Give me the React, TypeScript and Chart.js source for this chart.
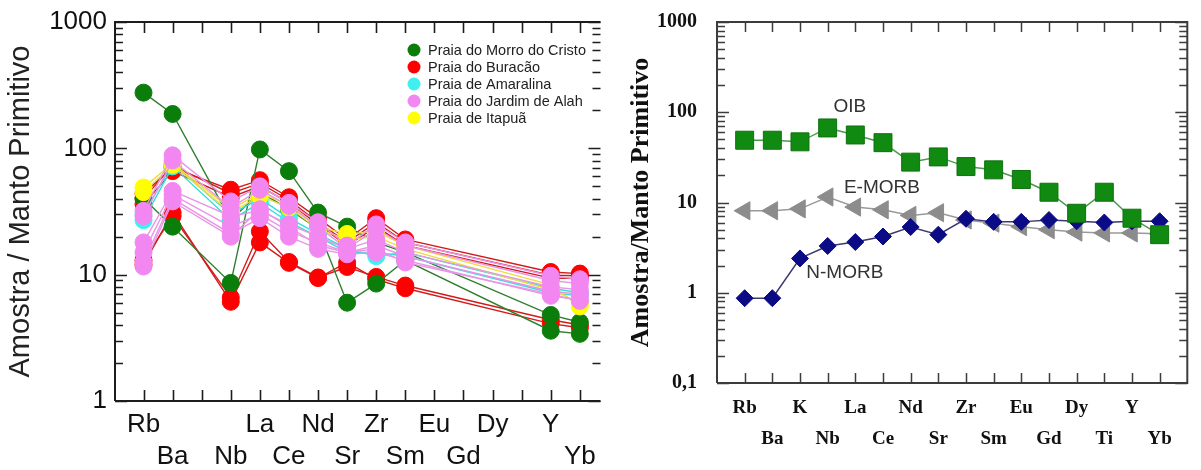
import React, { useEffect, useRef } from 'react';
import { Chart, registerables } from 'chart.js';

Chart.register(...registerables);

// ---------------- data ----------------
const elements = ['Rb', 'Ba', 'K', 'Nb', 'La', 'Ce', 'Nd', 'Sr', 'Zr', 'Sm', 'Eu', 'Gd', 'Dy', 'Ti', 'Y', 'Yb'];
const leftTickLabels = ['Rb', 'Ba', '', 'Nb', 'La', 'Ce', 'Nd', 'Sr', 'Zr', 'Sm', 'Eu', 'Gd', 'Dy', '', 'Y', 'Yb'];
const rightTickLabels = ['Rb', 'Ba', 'K', 'Nb', 'La', 'Ce', 'Nd', 'Sr', 'Zr', 'Sm', 'Eu', 'Gd', 'Dy', 'Ti', 'Y', 'Yb'];

const leftYTicks = [1, 10, 100, 1000];
const leftYTickLabels = ['1', '10', '100', '1000'];
const rightYTicks = [0.1, 1, 10, 100, 1000];
const rightYTickLabels = ['0,1', '1', '10', '100', '1000'];

const legendNames = [
  'Praia do Morro do Cristo',
  'Praia do Buracão',
  'Praia de Amaralina',
  'Praia do Jardim de Alah',
  'Praia de Itapuã',
];

const n = null;
// order: Rb Ba K Nb La Ce Nd Sr Zr Sm Eu Gd Dy Ti Y Yb
const morroCristoA = [276, 187, n, 27, 45, 33, 23, 6, 8.5, 13, n, n, n, n, 3.6, 3.4];
const morroCristoB = [40, 24, n, 8.6, 98, 66, 31, 24, 18, 15, n, n, n, n, 4.8, 4.2];

const buracao1 = [44, 70, n, 47, 56, 41, 28, 19, 28, 19, n, n, n, n, 10.5, 10.2];
const buracao2 = [40, 73, n, 44, 53, 39, 26, 18, 26, 18, n, n, n, n, 9.9, 9.8];
const buracao3 = [36, 66, n, 41, 50, 37, 25, 17, 24, 17, n, n, n, n, 9.4, 9.3];
const buracao4 = [13, 29, n, 6.6, 22, 12.6, 9.5, 11.5, 9.6, 8.2, n, n, n, n, 4.4, 4.0];
const buracao5 = [12, 31, n, 6.1, 18, 12.4, 9.4, 12.5, 9.2, 7.8, n, n, n, n, 4.1, 3.8];

const amaralina1 = [30, 76, n, 30, 40, 28, 21, 16, 14, 15, n, n, n, n, 7.8, 7.2];
const amaralina2 = [27, 72, n, 27, 37, 26, 20, 15, 15, 14, n, n, n, n, 7.2, 6.8];

const jardim1 = [32, 88, n, 38, 50, 37, 26, 17, 25, 18, n, n, n, n, 9.8, 9.2];
const jardim2 = [29, 80, n, 34, 47, 35, 24, 16, 23, 17, n, n, n, n, 9.0, 8.5];
const jardim3 = [18, 46, n, 29, 32, 25, 20, 16, 19, 15, n, n, n, n, 8.0, 7.6];
const jardim4 = [15, 43, n, 24, 30, 22, 18, 15, 17, 14, n, n, n, n, 7.4, 7.0];
const jardim5 = [12.6, 40, n, 21, 28, 20, 16, 14.5, 15, 13, n, n, n, n, 6.8, 6.3];
const jardim6 = [11.6, 38, n, 20, 33, 24, 17, 15, 16, 12.5, n, n, n, n, 7.0, 6.2];

const itapua1 = [49, 76, n, 33, 44, 36, 24, 21, 22, 17, n, n, n, n, 8.3, 5.6];
const itapua2 = [45, 74, n, 31, 42, 34, 23, 19, 20, 16, n, n, n, n, 7.6, 6.0];

const oib = [49, 49, 47, 67, 56, 46, 28, 32, 25, 23, 18, 13, 7.6, 13, 6.7, 4.4];
const eMorb = [8.1, 8.1, 8.5, 11.5, 8.9, 8.3, 7.2, 7.7, 6.4, 5.9, 5.4, 5.0, 4.7, 4.6, 4.6, 4.5];
const nMorb = [0.87, 0.87, 2.4, 3.3, 3.65, 4.2, 5.35, 4.4, 6.6, 6.1, 6.1, 6.4, 6.2, 6.0, 6.2, 6.2];

const annotationTexts = ['OIB', 'E-MORB', 'N-MORB'];
const annotationX = [3.8, 4.96, 3.62];
const annotationY = [114, 14.5, 1.66];

// ---------------- helpers ----------------
const toPoints = (arr: (number | null)[]) =>
  arr.map((v, i) => (v == null ? null : { x: i, y: v })).filter(Boolean) as { x: number; y: number }[];

const SANS = '"Liberation Sans", Arial, sans-serif';
const SERIF = '"Liberation Serif", "Times New Roman", serif';

const leftGroups = [
  { name: legendNames[0], samples: [morroCristoA, morroCristoB], fill: '#0b7d0b', line: '#2f7f2f', order: 4 },
  { name: legendNames[1], samples: [buracao1, buracao2, buracao3, buracao4, buracao5], fill: '#ff0000', line: '#d21c1c', order: 5 },
  { name: legendNames[2], samples: [amaralina1, amaralina2], fill: '#40f0f0', line: '#36dcdc', order: 3 },
  { name: legendNames[3], samples: [jardim1, jardim2, jardim3, jardim4, jardim5, jardim6], fill: '#f287f2', line: '#e796e7', order: 1 },
  { name: legendNames[4], samples: [itapua1, itapua2], fill: '#ffff00', line: '#eedc40', order: 2 },
];

function frameTicksPlugin(cfg: {
  color: string; lineWidth: number; tickWidth: number; major: number; minor: number; xLen: number; drawRight: boolean;
}) {
  return {
    id: 'frameTicks',
    afterDraw(chart: any) {
      const { ctx, chartArea: a, scales } = chart;
      const xs = scales.x;
      const ys = scales.y;
      ctx.save();
      ctx.strokeStyle = cfg.color;
      ctx.lineWidth = cfg.lineWidth;
      ctx.beginPath();
      ctx.moveTo(a.left, a.bottom);
      ctx.lineTo(a.left, a.top);
      ctx.lineTo(a.right, a.top);
      if (cfg.drawRight) {
        ctx.lineTo(a.right, a.bottom);
        ctx.lineTo(a.left, a.bottom);
      } else {
        ctx.moveTo(a.left, a.bottom);
        ctx.lineTo(a.right, a.bottom);
      }
      ctx.stroke();
      ctx.lineWidth = cfg.tickWidth;
      ctx.beginPath();
      xs.ticks.forEach((t: any) => {
        const px = Math.round(xs.getPixelForValue(t.value)) + 0.5;
        ctx.moveTo(px, a.top);
        ctx.lineTo(px, a.top + cfg.xLen);
        ctx.moveTo(px, a.bottom);
        ctx.lineTo(px, a.bottom - cfg.xLen);
      });
      const lo = Math.floor(Math.log10(ys.min));
      const hi = Math.ceil(Math.log10(ys.max));
      for (let d = lo; d <= hi; d++) {
        for (let m = 1; m <= 9; m++) {
          const v = m * Math.pow(10, d);
          if (v < ys.min * 0.999 || v > ys.max * 1.001) continue;
          const py = Math.round(ys.getPixelForValue(v)) + 0.5;
          const L = m === 1 ? cfg.major : cfg.minor;
          ctx.moveTo(a.left, py);
          ctx.lineTo(a.left + L, py);
          ctx.moveTo(a.right, py);
          ctx.lineTo(a.right - L, py);
        }
      }
      ctx.stroke();
      ctx.restore();
    },
  };
}

const leftLegendPlugin = {
  id: 'sampleLegend',
  afterDraw(chart: any) {
    const ctx = chart.ctx;
    ctx.save();
    leftGroups.forEach((g, i) => {
      const y = 50 + i * 17;
      ctx.beginPath();
      ctx.arc(414, y, 6.5, 0, Math.PI * 2);
      ctx.fillStyle = g.fill;
      ctx.fill();
      ctx.fillStyle = '#222';
      ctx.font = '14.5px ' + SANS;
      ctx.textBaseline = 'middle';
      ctx.textAlign = 'left';
      ctx.fillText(g.name, 428, y + 0.5);
    });
    ctx.restore();
  },
};

const rightAnnotationPlugin = {
  id: 'modelLabels',
  afterDatasetsDraw(chart: any) {
    const { ctx, scales } = chart;
    ctx.save();
    ctx.fillStyle = '#333';
    ctx.font = '19px ' + SANS;
    ctx.textAlign = 'center';
    ctx.textBaseline = 'middle';
    annotationTexts.forEach((t, i) => {
      ctx.fillText(t, scales.x.getPixelForValue(annotationX[i]), scales.y.getPixelForValue(annotationY[i]));
    });
    ctx.restore();
  },
};

const findLabel = (ticks: number[], labels: string[], v: number) => {
  const i = ticks.findIndex((t) => Math.abs(t - v) < t * 1e-6);
  return i >= 0 ? labels[i] : '';
};

function leftConfig(): any {
  return {
    type: 'line',
    data: {
      datasets: leftGroups.flatMap((g) =>
        g.samples.map((s) => ({
          label: g.name,
          data: toPoints(s),
          borderColor: g.line,
          borderWidth: 1.4,
          backgroundColor: g.fill,
          pointBackgroundColor: g.fill,
          pointBorderColor: g.fill,
          pointBorderWidth: 1,
          pointRadius: 8.5,
          pointStyle: 'circle',
          order: g.order,
          tension: 0,
          fill: false,
        }))
      ),
    },
    options: {
      responsive: false,
      animation: false,
      events: [],
      layout: { padding: { top: 22, right: 1, bottom: 0, left: 0 } },
      plugins: { legend: { display: false }, tooltip: { enabled: false } },
      scales: {
        x: {
          type: 'linear',
          min: -0.98,
          max: 15.71,
          bounds: 'data',
          grid: { display: false, drawTicks: false },
          border: { display: false },
          afterBuildTicks: (s: any) => {
            s.ticks = elements.map((_, i) => ({ value: i }));
          },
          afterFit: (s: any) => {
            s.height = 69;
            s.paddingLeft = 0;
            s.paddingRight = 0;
          },
          ticks: {
            autoSkip: false,
            maxRotation: 0,
            minRotation: 0,
            padding: 8,
            color: '#111',
            font: { family: SANS, size: 26, lineHeight: 1.23 },
            callback: (v: number) => {
              const i = Math.round(v);
              const t = leftTickLabels[i] ?? '';
              return i % 2 === 0 ? [t, ''] : ['', t];
            },
          },
        },
        y: {
          type: 'logarithmic',
          min: 1,
          max: 1000,
          grid: { display: false, drawTicks: false },
          border: { display: false },
          afterBuildTicks: (s: any) => {
            s.ticks = leftYTicks.map((v) => ({ value: v }));
          },
          afterFit: (s: any) => {
            s.width = 115;
            s.paddingTop = 0;
            s.paddingBottom = 0;
          },
          ticks: {
            padding: 8,
            color: '#111',
            font: { family: SANS, size: 26 },
            callback: (v: number) => findLabel(leftYTicks, leftYTickLabels, v),
          },
          title: {
            display: true,
            text: 'Amostra / Manto Primitivo',
            color: '#222',
            font: { family: SANS, size: 29 },
            padding: { top: 4, bottom: 0 },
          },
        },
      },
    },
    plugins: [
      frameTicksPlugin({ color: '#1c1c1c', lineWidth: 2, tickWidth: 1.6, major: 12, minor: 8, xLen: 11, drawRight: false }),
      leftLegendPlugin,
    ],
  };
}

function rightConfig(): any {
  return {
    type: 'line',
    data: {
      datasets: [
        {
          label: 'OIB',
          data: toPoints(oib),
          borderColor: '#4b9a4b',
          borderWidth: 1.5,
          pointBackgroundColor: '#118a11',
          pointBorderColor: '#0d720d',
          pointBorderWidth: 1,
          pointRadius: 12.7,
          pointStyle: 'rect',
          order: 1,
          tension: 0,
        },
        {
          label: 'N-MORB',
          data: toPoints(nMorb),
          borderColor: '#3a3a70',
          borderWidth: 1.5,
          pointBackgroundColor: '#0b0b86',
          pointBorderColor: '#0b0b86',
          pointBorderWidth: 1,
          pointRadius: 8.5,
          pointStyle: 'rectRot',
          order: 2,
          tension: 0,
        },
        {
          label: 'E-MORB',
          data: toPoints(eMorb),
          borderColor: '#9a9a9a',
          borderWidth: 1.5,
          pointBackgroundColor: '#8c8c8c',
          pointBorderColor: '#8c8c8c',
          pointBorderWidth: 1,
          pointRadius: 10.5,
          pointStyle: 'triangle',
          pointRotation: -90,
          order: 3,
          tension: 0,
        },
      ],
    },
    options: {
      responsive: false,
      animation: false,
      events: [],
      layout: { padding: { top: 22, right: 2, bottom: 0, left: 0 } },
      plugins: { legend: { display: false }, tooltip: { enabled: false } },
      scales: {
        x: {
          type: 'linear',
          min: -1,
          max: 16,
          bounds: 'data',
          grid: { display: false, drawTicks: false },
          border: { display: false },
          afterBuildTicks: (s: any) => {
            s.ticks = elements.map((_, i) => ({ value: i }));
          },
          afterFit: (s: any) => {
            s.height = 87;
            s.paddingLeft = 0;
            s.paddingRight = 0;
          },
          ticks: {
            autoSkip: false,
            maxRotation: 0,
            minRotation: 0,
            padding: 9.5,
            color: '#111',
            font: { family: SERIF, size: 19, weight: 'bold', lineHeight: 1.63 },
            callback: (v: number) => {
              const i = Math.round(v);
              const t = rightTickLabels[i] ?? '';
              return i % 2 === 0 ? [t, ''] : ['', t];
            },
          },
        },
        y: {
          type: 'logarithmic',
          min: 0.1,
          max: 1000,
          grid: { display: false, drawTicks: false },
          border: { display: false },
          afterBuildTicks: (s: any) => {
            s.ticks = rightYTicks.map((v) => ({ value: v }));
          },
          afterFit: (s: any) => {
            s.width = 107;
            s.paddingTop = 0;
            s.paddingBottom = 0;
          },
          ticks: {
            padding: 20,
            color: '#111',
            font: { family: SERIF, size: 20, weight: 'bold' },
            callback: (v: number) => findLabel(rightYTicks, rightYTickLabels, v),
          },
          title: {
            display: true,
            text: 'Amostra/Manto Primitivo',
            color: '#111',
            font: { family: SERIF, size: 26, weight: 'bold' },
            padding: { top: 16, bottom: 0 },
          },
        },
      },
    },
    plugins: [
      frameTicksPlugin({ color: '#3c3c3c', lineWidth: 2, tickWidth: 1.5, major: 12, minor: 8, xLen: 10, drawRight: true }),
      rightAnnotationPlugin,
    ],
  };
}

function ChartCanvas(props: { make: () => any; left: number; width: number; height: number }) {
  const ref = useRef<HTMLCanvasElement | null>(null);
  useEffect(() => {
    if (!ref.current) return;
    const chart = new Chart(ref.current, props.make());
    return () => chart.destroy();
  }, []);
  return (
    <canvas
      ref={ref}
      width={props.width}
      height={props.height}
      style={{ position: 'absolute', left: props.left, top: 0, width: props.width, height: props.height, display: 'block' }}
    />
  );
}

export default function App() {
  return (
    <div style={{ position: 'absolute', left: 0, top: 0, width: 1201, height: 470, background: '#fff', overflow: 'hidden' }}>
      <ChartCanvas make={leftConfig} left={0} width={610} height={470} />
      <ChartCanvas make={rightConfig} left={610} width={591} height={470} />
    </div>
  );
}
